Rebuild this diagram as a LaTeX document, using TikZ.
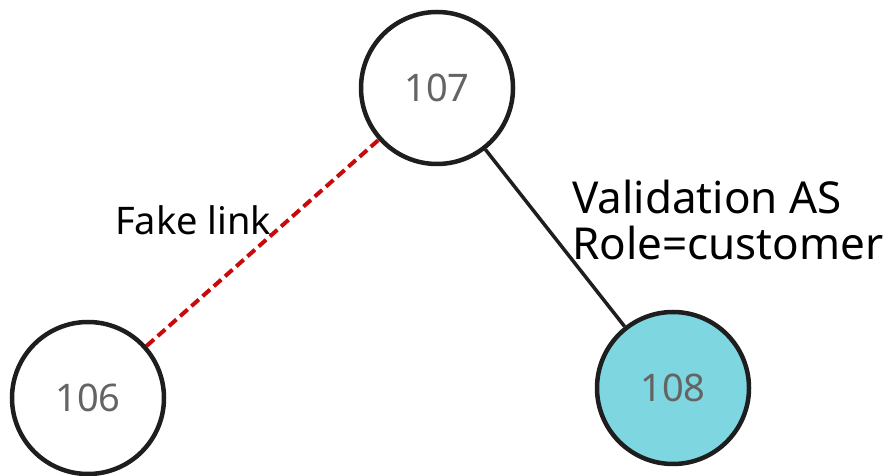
\documentclass[tikz,border=0pt]{standalone}
\usepackage{fontspec}
\setmainfont{Noto Sans}
\usepackage{xcolor}
\definecolor{NodeBorder}{RGB}{30,30,30}
\definecolor{NodeText}{RGB}{100,100,100}
\definecolor{CustFill}{RGB}{126,214,224}
\definecolor{FakeRed}{RGB}{200,10,10}
\usetikzlibrary{positioning}
\tikzset{
  % Plain AS vertex
  vertex/.style={
    circle,
    draw=NodeBorder,
    fill=white,
    line width=4.5pt,
    minimum size=152pt,
    inner sep=0pt,
    text=NodeText,
    font=\fontsize{38}{44}\selectfont
  },
  % Customer vertex
  cvertex/.style={vertex, fill=CustFill},
  % Real link
  edge/.style={draw=NodeBorder, line width=3.5pt},
  % Fake link
  fedge/.style={draw=FakeRed, line width=4pt, dash pattern=on 10pt off 5pt},
  % Edge label
  elabel/.style={
    font=\fontsize{38}{45}\selectfont,
    inner sep=0pt,
    align=left
  }
}

\begin{document}
\begin{tikzpicture}[x=1pt, y=1pt]
  \useasboundingbox (0,0) rectangle (888,476);

  \node[vertex]  (as107) at (437,388) {107};
  \node[vertex]  (as106) at (88,78)   {106};
  \node[cvertex] (as108) at (673,88)  {108};

  \draw[fedge] (as106) -- (as107);
  \draw[edge]  (as107) -- (as108);

  % Labels
  \node[elabel, anchor=base west] (fake) at (115,241) {Fake link};
  \node[elabel, anchor=base west, font=\fontsize{44}{46}\selectfont]
    (valid) at (572,216) {Validation AS\\Role=customer};
\end{tikzpicture}
\end{document}
